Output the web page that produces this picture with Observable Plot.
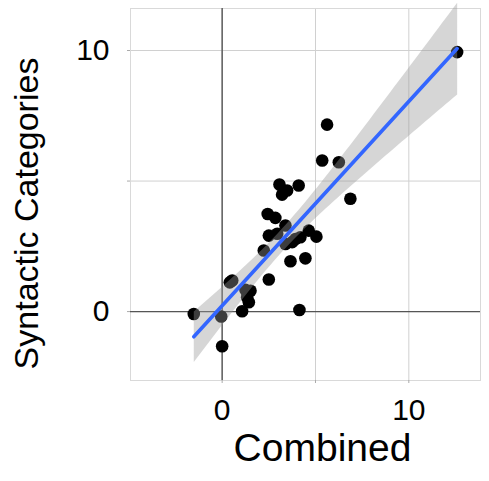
<!DOCTYPE html>
<html>
<head>
<meta charset="utf-8">
<script src="https://cdn.jsdelivr.net/npm/d3@7"></script>
<script src="https://cdn.jsdelivr.net/npm/@observablehq/plot@0.6"></script>
<style>
  body { margin: 0; background: #fff; }
  svg { display: block; }
</style>
</head>
<body>
<div id="chart"></div>
<script>
const combined = [5.62, 5.36, 6.25, 3.07, 4.10, 3.21, 3.48, 6.87, 2.44, 2.85, 3.39, 2.50, 2.95, 4.64, 5.05, 3.39, 3.93, 4.19, 3.75, 2.23, 3.66, 4.46, 2.50, 0.54, 0.41, 1.25, 1.52, 1.34, 1.43, 1.07, 4.14, -1.52, -0.05, 0.00, 12.59];
const syntactic = [7.16, 5.79, 5.72, 4.87, 4.83, 4.48, 4.64, 4.32, 3.74, 3.59, 3.30, 2.91, 2.98, 3.10, 2.87, 2.59, 2.78, 2.85, 2.66, 2.34, 1.93, 2.04, 1.23, 1.19, 1.12, 0.83, 0.80, 0.55, 0.36, 0.01, 0.06, -0.09, -0.19, -1.33, 9.94];
const gridTicks = [0, 5, 10];
const labelTicks = [0, 10];
const xTitle = "Combined";
const yTitle = "Syntactic Categories";

const data = combined.map((x, i) => ({x, y: syntactic[i]}));
const font = "'Liberation Sans', Arial, Helvetica, sans-serif";
const fmt = d => labelTicks.includes(d) ? String(d) : "";

const chart = Plot.plot({
  width: 489,
  height: 481,
  marginLeft: 130,
  marginRight: 9,
  marginTop: 8,
  marginBottom: 101,
  style: {fontFamily: font, background: "#fff"},
  x: {domain: [-4.91, 13.84]},
  y: {domain: [-2.64, 11.61]},
  marks: [
    Plot.gridX(gridTicks, {stroke: "#d0d0d0", strokeOpacity: 1, strokeWidth: 1}),
    Plot.gridY(gridTicks, {stroke: "#d0d0d0", strokeOpacity: 1, strokeWidth: 1}),
    Plot.frame({stroke: "#d9d9d9", strokeWidth: 1}),
    Plot.ruleX([0], {stroke: "#555", strokeWidth: 1.4}),
    Plot.ruleY([0], {stroke: "#555", strokeWidth: 1.4}),
    Plot.axisX(gridTicks, {tickFormat: fmt, tickSize: 3, tickPadding: 15, fontSize: 30, stroke: "#aaa", fill: "#000", label: null}),
    Plot.axisY(gridTicks, {tickFormat: fmt, tickSize: 3, tickPadding: 18, fontSize: 30, stroke: "#aaa", fill: "#000", label: null}),
    Plot.dot(data, {x: "x", y: "y", r: 6.3, fill: "#000", stroke: "none"}),
    Plot.linearRegressionY(data, {x: "x", y: "y", stroke: "#3366FF", strokeWidth: 3.6, fill: "#999", fillOpacity: 0.4}),
    Plot.text([xTitle], {frameAnchor: "bottom", textAnchor: "middle", lineAnchor: "bottom", dx: 17, dy: 80, fontSize: 39, fill: "#000"}),
    Plot.text([yTitle], {frameAnchor: "left", textAnchor: "middle", lineAnchor: "bottom", rotate: -90, dx: -93, dy: 19, fontSize: 34, fill: "#000"})
  ]
});
document.getElementById("chart").appendChild(chart);
</script>
</body>
</html>
